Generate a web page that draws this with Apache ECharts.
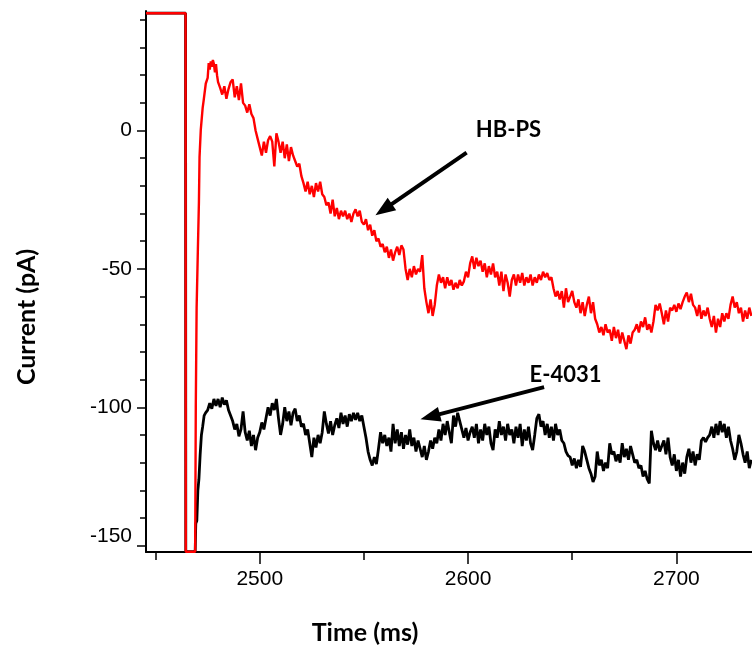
<!DOCTYPE html>
<html>
<head>
<meta charset="utf-8">
<script src="https://cdn.jsdelivr.net/npm/echarts@6/dist/echarts.min.js"></script>
<style>html,body{margin:0;padding:0;background:#fff}#c{width:752px;height:647px}</style>
</head>
<body>
<div id="c"></div>
<script>
// Axis ranges (ms, pA)
var X_MIN = 2445.4, X_MAX = 2736.3;
var Y_MIN = -152.3, Y_MAX = 43.2;
var xMajorTicks = [2500, 2600, 2700];
var xMinorTicks = [2450, 2550, 2650];
var yMajorTicks = [0, -50, -100, -150];
var yMinorTicks = [40, 30, 20, 10, -10, -20, -30, -40, -60, -70, -80, -90, -110, -120, -130, -140];

// Step + onset segments [time, current]
var redOnset = [[2445.4,42.4],[2464.4,42.4],[2464.5,-152.2],[2469.0,-152.2],[2469.3,-100],[2469.7,-64],[2470.3,-43],[2470.8,-26],[2471.1,-9.5],[2471.7,0.3],[2472.6,8.2],[2473.1,11],[2474.1,17],[2475,19],[2475.5,24.4],[2476,22],[2476.5,25],[2477,23],[2477.5,25.5],[2478,24],[2478.5,21],[2479,24],[2479.5,20]];
var blackOnset = [[2445.4,42.4],[2464.4,42.4],[2464.5,-152.2],[2469.0,-152.2],[2469.3,-142],[2469.8,-141],[2470.3,-130],[2470.8,-126],[2471.4,-117],[2472,-110],[2472.6,-107],[2473.3,-103],[2474,-102],[2475,-101],[2476,-98.5],[2477,-100.5],[2478,-97],[2479,-99.5]];

// Sampled traces, 1 ms apart starting at T0
var T0 = 2480;
var hbpsValues = [17.5,15.4,13,16,11.5,15,17.5,18.5,12,16,11,17,10,9,6.5,9.5,6,4.5,0,-3,
-6,-9,-4,-8,-3.5,-2,-4,-13,-1,-4,-8,-4,-10,-5,-11,-6,-9,-11,-13,-12,
-16.5,-19,-22,-18.5,-23,-20,-24,-19,-22,-18.5,-23,-24,-27,-26,-30,-25,-31,-28,-32,-29,
-31,-29,-32,-30,-33,-30,-28.5,-31,-29,-33,-34,-32,-36,-34,-38,-36,-40,-39,-42,-41,
-44,-42,-46,-43,-47,-44,-42,-45,-41.5,-43,-50,-54,-50,-53,-49,-52,-50,-51,-45,-57,
-62,-66,-61,-67,-63,-56,-52,-55,-53,-57,-53,-56,-54,-57.5,-55,-57,-54,-56,-54.5,-51,
-53,-48,-45.5,-50,-46,-49,-47,-51,-48,-53,-49,-52,-48,-53,-51,-56,-51,-58,-52,-55,
-60,-54,-52,-56,-52,-55,-51.5,-56,-53,-55,-52,-56,-53,-55,-52,-54,-51,-53,-51.5,-54,
-53,-57,-60,-58,-61,-58,-64,-57,-62,-60,-58,-62,-64,-61,-66,-62,-67,-63,-60,-66,
-62,-68,-70,-73,-71,-74,-70,-73,-72,-76,-71,-75,-72,-77,-73,-76,-79,-74,-77,-73,
-72,-70,-73,-69,-71,-67.5,-72,-70,-73,-69,-63,-65,-62.5,-66,-70,-65,-69,-64,-65,-63,
-65.5,-62.5,-64.5,-62,-60,-58.5,-62,-59,-63,-64,-67,-63,-68,-65,-67,-64,-68,-71,-67,-73,
-68,-71,-66,-69,-66,-68,-63,-60,-64,-62,-66,-64,-69,-65,-68,-64,-67];
var e4031Values = [-97,-100,-96.5,-99,-97.5,-101,-103,-105,-108,-106,-110.5,-108,-101.5,-109,-112,-108.5,-114,-110,-115.5,-111,
-109,-105.5,-108,-104,-100,-103,-98.5,-101,-97,-104,-110,-106,-100,-105,-101.5,-106.5,-102,-100.5,-105,-103,
-107,-106,-110,-108,-113,-118,-111,-114.5,-110,-113,-109,-101.5,-106,-109.5,-105,-110,-106.5,-104,-107.5,-102,
-106,-103,-107,-102.5,-105,-102,-104.5,-102,-105,-103,-107,-111,-116,-119,-121,-118,-120.5,-115,-109,-113,
-110,-114,-111,-116,-106,-113,-108,-114,-109,-115,-110,-113.5,-108,-114,-111,-116,-112,-115,-118,-114,
-119,-116,-112,-115,-111,-113,-108,-112,-106,-110,-105,-109,-113,-103,-107,-102,-105,-108,-111,-107.5,
-112,-109,-107,-111,-106,-113,-108,-112,-106,-110,-107,-113,-115.5,-108,-111,-105,-110,-107,-112,-106,
-110,-108,-113,-107,-111,-106,-114,-108,-112,-107,-113,-115.5,-110,-104,-102.5,-107,-105,-110,-106,-111,
-107,-112,-106,-110,-108,-112,-113,-116,-117.5,-118,-121,-118.5,-122,-119,-121.5,-114,-116,-119,-122,-124,
-127,-125,-116,-121,-119,-123,-120,-122,-113,-117,-116,-119.5,-117,-120,-113,-118,-115,-119,-114,-117,
-120,-119,-122,-121,-125,-123,-126,-127.5,-108.5,-113,-115.5,-112,-116,-114,-112,-117,-111,-118,-121,-117,
-123,-119,-125,-120,-124,-118,-115,-120,-116,-121,-117,-119,-112,-111,-112.5,-111,-110,-107,-111,-106,
-110,-105,-109,-106,-111,-107,-112,-115,-119,-116,-110,-113,-117,-120,-116,-122,-119];

// Annotations (data coordinates)
var hbpsArrow = [[2599.3, -8.0], [2559.5, -28.6]];
var e4031Arrow = [[2636.5, -92.7], [2581.8, -103.4]];
var hbpsLabel = {text: 'HB-PS', at: [2619.4, 0.3]};
var e4031Label = {text: 'E-4031', at: [2646.8, -88.3]};

function build(onset, vals) {
  var d = onset.slice();
  for (var i = 0; i < vals.length; i++) d.push([T0 + i, vals[i]]);
  return d;
}

var chart = echarts.init(document.getElementById('c'), null, {renderer: 'canvas'});
var labelFont = {fontFamily: 'Liberation Sans', fontSize: 21, color: '#000'};
var arrowStyle = {color: '#000', width: 4, type: 'solid'};
function arrowLine(a) {
  return {
    silent: true, symbol: ['none', 'triangle'], symbolSize: [15, 20],
    lineStyle: arrowStyle, itemStyle: {color: '#000'}, label: {show: false},
    emphasis: {disabled: true},
    data: [[{coord: a[0]}, {coord: a[1]}]]
  };
}
function textPoint(l) {
  return {
    silent: true, symbol: 'rect', symbolSize: 1, itemStyle: {color: 'rgba(0,0,0,0)'},
    label: {show: true, position: 'inside', formatter: l.text, fontFamily: 'Lato', fontWeight: 'bold', fontSize: 22, color: '#000'},
    data: [{coord: l.at}]
  };
}

chart.setOption({
  animation: false,
  backgroundColor: '#fff',
  grid: {left: 146, top: 11, right: 0, bottom: 95, containLabel: false},
  xAxis: [{
    type: 'value', min: X_MIN, max: X_MAX, position: 'bottom',
    axisLine: {show: true, onZero: false, lineStyle: {color: '#000', width: 2}},
    axisTick: {show: true, length: 12, customValues: xMajorTicks, lineStyle: {color: '#000', width: 1.5}},
    axisLabel: Object.assign({customValues: xMajorTicks, margin: 17, formatter: function (v) { return String(v); }}, labelFont),
    splitLine: {show: false}
  }, {
    type: 'value', min: X_MIN, max: X_MAX, position: 'bottom', offset: 0,
    axisLine: {show: false, onZero: false},
    axisTick: {show: true, length: 8, customValues: xMinorTicks, lineStyle: {color: '#000', width: 1.5}},
    axisLabel: {show: false}, splitLine: {show: false}
  }],
  yAxis: [{
    type: 'value', min: Y_MIN, max: Y_MAX, position: 'left',
    axisLine: {show: true, onZero: false, lineStyle: {color: '#000', width: 2}},
    axisTick: {show: true, length: 9, customValues: yMajorTicks, lineStyle: {color: '#000', width: 1.5}},
    axisLabel: Object.assign({
      customValues: yMajorTicks, margin: 14,
      formatter: function (v) { return v === -150 ? '{b|' + v + '}' : String(v); },
      rich: {b: {fontFamily: 'Liberation Sans', fontSize: 21, color: '#000', padding: [0, 0, 18, 0]}}
    }, labelFont),
    splitLine: {show: false}
  }, {
    type: 'value', min: Y_MIN, max: Y_MAX, position: 'left', offset: 0,
    axisLine: {show: false, onZero: false},
    axisTick: {show: true, length: 6, customValues: yMinorTicks, lineStyle: {color: '#000', width: 1.5}},
    axisLabel: {show: false}, splitLine: {show: false}
  }],
  series: [{
    name: 'E-4031', type: 'line', data: build(blackOnset, e4031Values),
    showSymbol: false, symbol: 'none', lineStyle: {color: '#000', width: 2.8}, z: 2,
    markLine: arrowLine(e4031Arrow), markPoint: textPoint(e4031Label)
  }, {
    name: 'HB-PS', type: 'line', data: build(redOnset, hbpsValues),
    showSymbol: false, symbol: 'none', lineStyle: {color: '#ff0000', width: 2.4}, z: 3,
    markLine: arrowLine(hbpsArrow), markPoint: textPoint(hbpsLabel)
  }],
  graphic: [{
    type: 'text', x: 27, y: 317, rotation: Math.PI / 2,
    style: {text: 'Current (pA)', font: 'bold 25px Lato', fill: '#000', align: 'center', verticalAlign: 'middle'}
  }, {
    type: 'text', x: 365, y: 633,
    style: {text: 'Time (ms)', font: 'bold 25px Lato', fill: '#000', align: 'center', verticalAlign: 'middle'}
  }]
});
</script>
</body>
</html>
